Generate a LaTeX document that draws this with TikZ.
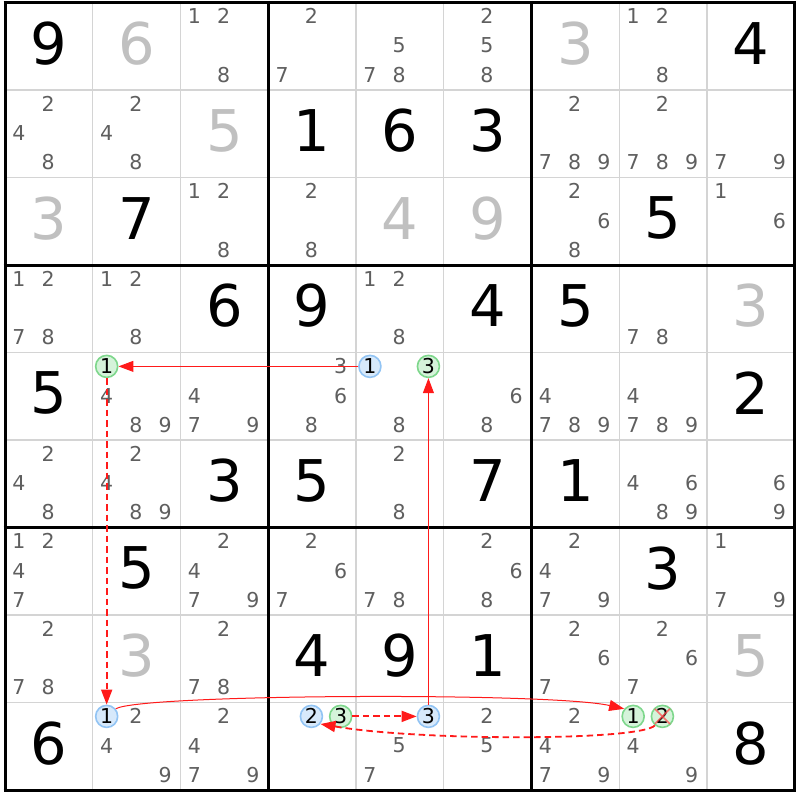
\documentclass[tikz,border=0pt]{standalone}
\usepackage{fontspec}
\setmainfont{DejaVu Sans}
\usetikzlibrary{arrows.meta}
\definecolor{candgray}{HTML}{5F5F5F}
\definecolor{givengray}{HTML}{C0C0C0}
\definecolor{thinline}{HTML}{D4D4D4}
\definecolor{bluefill}{HTML}{D7E9FB}
\definecolor{bluedraw}{HTML}{92C4F4}
\definecolor{greenfill}{HTML}{D5F3DA}
\definecolor{greendraw}{HTML}{7ED78C}
\definecolor{linkred}{HTML}{FF1A1A}
\newcommand\sdkxy[3]{%
  \pgfmathsetmacro\cx{5+(#2-1)*87.75+(2*mod(#3-1,3)+1)*14.625-0.7}%
  \pgfmathsetmacro\cy{2.5+(#1-1)*87.5+(2*floor((#3-1)/3)+1)*14.583-0.7}}
\begin{document}
\begin{tikzpicture}[x=1pt,y=-1pt,
  cand/.style={text=candgray, font=\fontsize{20.5}{20.5}\selectfont, inner sep=0pt},
  bigB/.style={font=\fontsize{57.5}{57.5}\selectfont, inner sep=0pt},
  bigG/.style={bigB, text=givengray},
  hlblue/.style={circle, draw=bluedraw, fill=bluefill, line width=1.6pt, minimum size=22pt, inner sep=0pt, font=\fontsize{20.5}{20.5}\selectfont},
  hlgreen/.style={hlblue, draw=greendraw, fill=greenfill},
  thingrid/.style={draw=thinline, line width=1.4pt},
  thickgrid/.style={draw=black, line width=3pt},
  strong/.style={draw=linkred, line width=1pt, -{Triangle[length=15pt,width=11pt]}},
  weak/.style={draw=linkred, line width=1.8pt, dash pattern=on 6.5pt off 4pt, -{Triangle[length=15pt,width=11pt]}},
  xmark/.style={draw=red!70, line width=1.6pt, opacity=0.75},
]
\useasboundingbox (0,0) rectangle (800,800);
\fill[white] (0,0) rectangle (800,800);
% thin grid
\foreach \i in {1,2,4,5,7,8} {
  \draw[thingrid] ({5+\i*87.75},2.5) -- ({5+\i*87.75},790);
  \draw[thingrid] (5,{2.5+\i*87.5}) -- (794.75,{2.5+\i*87.5});
}
% thick grid
\foreach \i in {0,3,6,9} {
  \draw[thickgrid] ({5+\i*87.75},1) -- ({5+\i*87.75},791.5);
  \draw[thickgrid] (3.5,{2.5+\i*87.5}) -- (796.25,{2.5+\i*87.5});
}
% big digits
\foreach \r/\c/\d/\st in {1/1/9/bigB, 1/2/6/bigG, 1/7/3/bigG, 1/9/4/bigB,
  2/3/5/bigG, 2/4/1/bigB, 2/5/6/bigB, 2/6/3/bigB,
  3/1/3/bigG, 3/2/7/bigB, 3/5/4/bigG, 3/6/9/bigG, 3/8/5/bigB,
  4/3/6/bigB, 4/4/9/bigB, 4/6/4/bigB, 4/7/5/bigB, 4/9/3/bigG,
  5/1/5/bigB, 5/9/2/bigB,
  6/3/3/bigB, 6/4/5/bigB, 6/6/7/bigB, 6/7/1/bigB,
  7/2/5/bigB, 7/8/3/bigB,
  8/2/3/bigG, 8/4/4/bigB, 8/5/9/bigB, 8/6/1/bigB, 8/9/5/bigG,
  9/1/6/bigB, 9/9/8/bigB} {
  \pgfmathsetmacro\gx{5+(\c-0.5)*87.75}
  \pgfmathsetmacro\gy{2.5+(\r-0.5)*87.5-3}
  \node[\st] (g-\r-\c) at (\gx,\gy) {\d};
}
% candidates
\foreach \r/\c/\ds in {1/3/{1,2,8}, 1/4/{2,7}, 1/5/{5,7,8}, 1/6/{2,5,8}, 1/8/{1,2,8},
  2/1/{2,4,8}, 2/2/{2,4,8}, 2/7/{2,7,8,9}, 2/8/{2,7,8,9}, 2/9/{7,9},
  3/3/{1,2,8}, 3/4/{2,8}, 3/7/{2,6,8}, 3/9/{1,6},
  4/1/{1,2,7,8}, 4/2/{1,2,8}, 4/5/{1,2,8}, 4/8/{7,8},
  5/2/{4,8,9}, 5/3/{4,7,9}, 5/4/{3,6,8}, 5/5/{8}, 5/6/{6,8}, 5/7/{4,7,8,9}, 5/8/{4,7,8,9},
  6/1/{2,4,8}, 6/2/{2,4,8,9}, 6/5/{2,8}, 6/8/{4,6,8,9}, 6/9/{6,9},
  7/1/{1,2,4,7}, 7/3/{2,4,7,9}, 7/4/{2,6,7}, 7/5/{7,8}, 7/6/{2,6,8}, 7/7/{2,4,7,9}, 7/9/{1,7,9},
  8/1/{2,7,8}, 8/3/{2,7,8}, 8/7/{2,6,7}, 8/8/{2,6,7},
  9/2/{2,4,9}, 9/3/{2,4,7,9}, 9/5/{5,7}, 9/6/{2,5}, 9/7/{2,4,7,9}, 9/8/{4,9}} {
  \foreach \d in \ds {
    \sdkxy{\r}{\c}{\d}
    \node[cand] (k-\r-\c-\d) at (\cx,\cy) {\d};
  }
}
% highlighted candidates
\sdkxy{5}{2}{1}\node[hlgreen] (a) at (\cx,\cy) {1};
\sdkxy{5}{5}{1}\node[hlblue] (b) at (\cx,\cy) {1};
\sdkxy{5}{5}{3}\node[hlgreen] (c) at (\cx,\cy) {3};
\sdkxy{9}{2}{1}\node[hlblue] (d) at (\cx,\cy) {1};
\sdkxy{9}{4}{2}\node[hlblue] (e) at (\cx,\cy) {2};
\sdkxy{9}{4}{3}\node[hlgreen] (f) at (\cx,\cy) {3};
\sdkxy{9}{5}{3}\node[hlblue] (g) at (\cx,\cy) {3};
\sdkxy{9}{8}{1}\node[hlgreen] (h) at (\cx,\cy) {1};
\sdkxy{9}{8}{2}\node[hlgreen] (i) at (\cx,\cy) {2};
% cross on eliminated candidate
\draw[xmark] ([shift={(-7.5,-7.5)}]i.center) -- ([shift={(7.5,7.5)}]i.center);
\draw[xmark] ([shift={(-7.5,7.5)}]i.center) -- ([shift={(7.5,-7.5)}]i.center);
% links
\draw[strong] (b) -- (a);
\draw[strong] (g) -- (c);
\draw[weak] (a) -- (d);
\draw[weak] (f) -- (g);
\draw[strong] (d.40) .. controls (140,694) and (550,692) .. (h.140);
\draw[weak] (i.230) .. controls (640,741) and (420,741) .. (e.-40);
\end{tikzpicture}
\end{document}
